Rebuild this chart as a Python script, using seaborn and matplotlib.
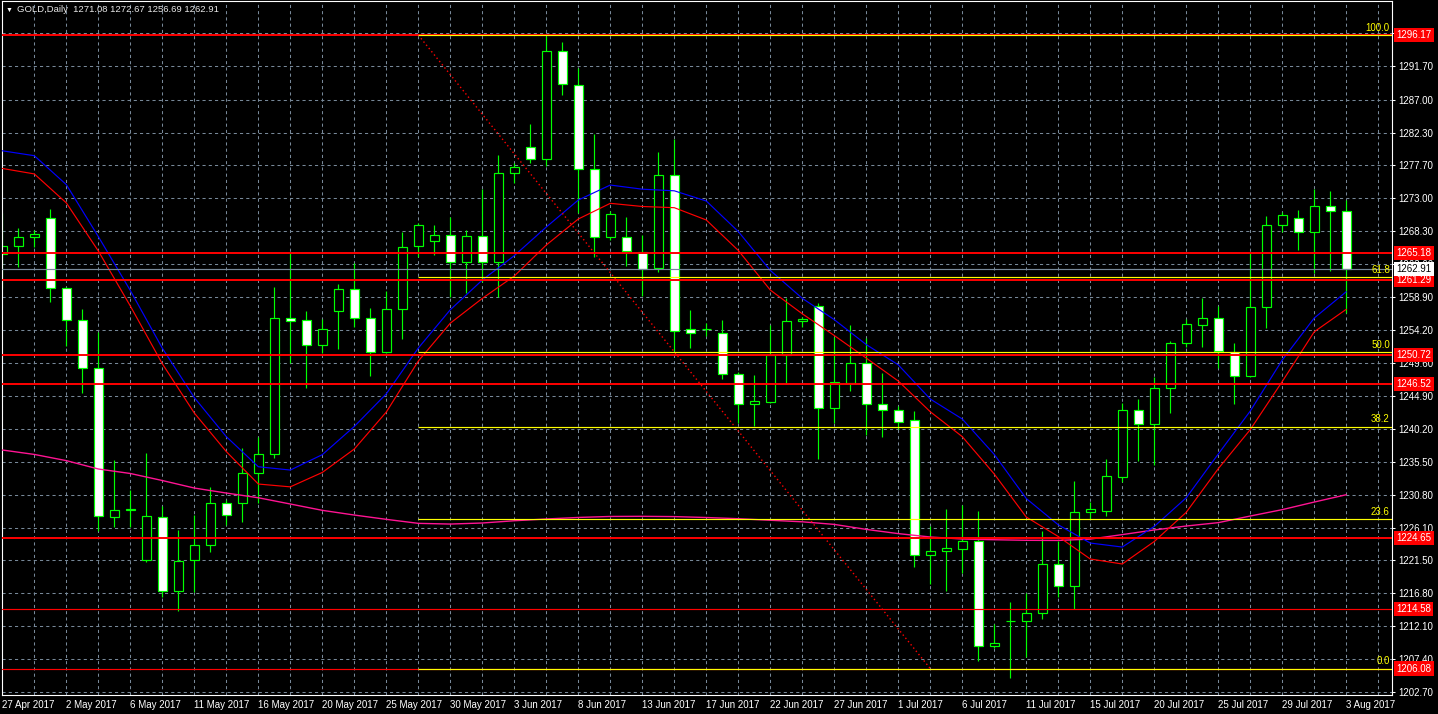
import numpy as np
import pandas as pd
import matplotlib
matplotlib.use("Agg")
import matplotlib.pyplot as plt
import seaborn as sns

# ---------------- data ----------------
opens = [1264.99, 1266.17, 1267.41, 1270.11, 1260.15, 1255.60, 1248.78, 1227.67, 1228.60, 1221.56,
         1227.59, 1217.15, 1221.51, 1223.65, 1229.58, 1229.58, 1233.84, 1236.55, 1255.89, 1255.60,
         1252.05, 1256.88, 1260.01, 1255.89, 1251.14, 1257.17, 1266.17, 1266.88, 1267.69, 1263.85,
         1267.55, 1263.85, 1276.51, 1280.20, 1278.50, 1293.86, 1289.02, 1277.08, 1267.41, 1267.41,
         1265.36, 1263.00, 1276.22, 1254.32, 1254.35, 1253.75, 1247.92, 1243.66, 1244.03, 1250.63,
         1255.46, 1257.59, 1243.09, 1246.73, 1249.57, 1243.66, 1242.80, 1241.38, 1222.18, 1222.75,
         1223.12, 1224.17, 1209.33, 1212.80, 1212.84, 1213.93, 1220.90, 1217.77, 1228.30, 1228.44,
         1233.39, 1242.80, 1240.81, 1245.93, 1252.33, 1254.89, 1255.89, 1251.14, 1247.68, 1257.54,
         1269.11, 1270.11, 1268.12, 1271.81, 1271.08]
highs = [1270.82, 1268.69, 1268.44, 1271.43, 1260.34, 1257.17, 1253.98, 1235.74, 1231.47, 1236.69,
         1229.15, 1225.78, 1227.91, 1231.85, 1230.05, 1237.40, 1238.96, 1260.34, 1265.13, 1256.93,
         1255.74, 1260.76, 1263.71, 1257.31, 1259.81, 1268.20, 1269.40, 1269.15, 1270.34, 1268.44,
         1274.23, 1279.11, 1277.93, 1283.52, 1296.10, 1295.22, 1291.44, 1282.10, 1271.19, 1270.25,
         1267.73, 1279.49, 1281.34, 1257.07, 1255.18, 1255.64, 1248.29, 1247.82, 1254.89, 1258.73,
         1256.11, 1258.02, 1253.18, 1254.89, 1253.13, 1248.07, 1243.42, 1242.70, 1226.39, 1228.77,
         1229.34, 1228.44, 1212.41, 1215.54, 1216.78, 1225.60, 1224.26, 1232.71, 1229.76, 1235.88,
         1243.80, 1244.41, 1247.58, 1252.70, 1255.74, 1258.73, 1257.64, 1252.33, 1265.13, 1270.44,
         1271.05, 1271.29, 1274.27, 1273.99, 1272.67]
lows = [1260.15, 1263.22, 1265.98, 1258.25, 1251.95, 1245.31, 1225.60, 1226.16, 1226.21, 1221.19,
        1216.21, 1214.30, 1217.01, 1222.69, 1226.49, 1226.96, 1229.58, 1235.98, 1249.57, 1245.93,
        1250.99, 1251.56, 1254.61, 1247.72, 1250.91, 1252.99, 1264.56, 1264.89, 1258.96, 1259.44,
        1261.09, 1258.96, 1275.08, 1278.01, 1277.59, 1287.64, 1270.82, 1264.56, 1267.02, 1263.32,
        1259.06, 1262.51, 1251.24, 1251.71, 1253.41, 1247.30, 1240.95, 1240.61, 1243.84, 1246.54,
        1254.61, 1235.88, 1240.95, 1245.59, 1239.29, 1239.05, 1240.14, 1220.56, 1218.10, 1217.15,
        1219.62, 1207.11, 1209.00, 1204.73, 1207.76, 1213.12, 1216.21, 1214.55, 1227.30, 1227.81,
        1232.56, 1235.59, 1235.02, 1242.46, 1251.76, 1251.76, 1248.78, 1243.66, 1247.50, 1254.46,
        1268.12, 1265.60, 1262.29, 1262.66, 1256.69]
closes = [1266.17, 1267.41, 1267.83, 1260.15, 1255.64, 1248.78, 1227.81, 1228.63, 1228.70, 1227.73,
          1217.15, 1221.41, 1223.65, 1229.58, 1227.96, 1233.84, 1236.55, 1255.89, 1255.50, 1252.05,
          1254.32, 1260.01, 1255.89, 1251.05, 1257.17, 1265.98, 1269.15, 1267.69, 1263.85, 1267.55,
          1263.85, 1276.51, 1277.36, 1278.50, 1293.86, 1289.16, 1277.08, 1267.41, 1270.68, 1265.46,
          1262.85, 1276.22, 1254.08, 1253.84, 1254.40, 1247.92, 1243.66, 1244.08, 1250.63, 1255.46,
          1255.79, 1243.09, 1246.79, 1249.57, 1243.66, 1242.80, 1241.10, 1222.23, 1222.75, 1223.22,
          1224.17, 1209.33, 1209.67, 1212.88, 1213.93, 1220.90, 1217.77, 1228.30, 1228.77, 1233.50,
          1242.80, 1240.81, 1245.93, 1252.33, 1255.03, 1255.89, 1251.24, 1247.68, 1257.54, 1269.11,
          1270.53, 1268.12, 1271.81, 1271.10, 1262.91]

# moving averages, read every second bar
ma_bars = list(range(0, 85, 2))
ma_blue = [1279.71, 1279.01, 1274.90, 1267.51, 1259.84, 1251.64, 1244.61, 1239.06, 1234.78, 1234.31,
           1236.50, 1240.51, 1245.15, 1251.66, 1257.11, 1261.33, 1264.80, 1268.87, 1272.71, 1274.84,
           1274.25, 1274.02, 1272.57, 1268.23, 1262.70, 1258.73, 1255.70, 1252.15, 1249.27, 1244.41,
           1241.57, 1236.53, 1230.26, 1226.52, 1223.93, 1223.36, 1226.29, 1230.37, 1236.59, 1242.70,
           1249.96, 1255.93, 1259.67]
ma_red = [1277.20, 1276.42, 1272.30, 1265.46, 1257.64, 1249.42, 1242.42, 1236.93, 1232.32, 1231.92,
          1233.97, 1237.30, 1242.56, 1249.81, 1255.20, 1258.72, 1261.90, 1266.31, 1270.01, 1272.24,
          1271.79, 1271.62, 1269.87, 1265.54, 1259.91, 1256.53, 1253.44, 1250.23, 1246.97, 1242.60,
          1239.06, 1233.74, 1227.63, 1224.86, 1221.66, 1220.95, 1224.15, 1228.30, 1234.50, 1240.06,
          1246.90, 1253.97, 1257.17]
ma_pink = [1237.16, 1236.53, 1235.65, 1234.46, 1233.82, 1232.82, 1231.75, 1231.04, 1230.37, 1229.48,
           1228.58, 1227.91, 1227.30, 1226.73, 1226.63, 1226.78, 1227.10, 1227.35, 1227.57, 1227.71,
           1227.73, 1227.69, 1227.56, 1227.39, 1227.17, 1226.95, 1226.58, 1225.87, 1225.27, 1224.79,
           1224.50, 1224.40, 1224.32, 1224.30, 1224.49, 1225.13, 1225.79, 1226.35, 1226.83, 1227.77,
           1228.68, 1229.76, 1230.80]

# horizontal levels
red_levels_thick = [1296.17, 1265.18, 1261.29, 1250.72, 1246.52, 1224.65]
red_levels_thin = [1214.58, 1206.08]
current_price = 1262.91

# fibonacci retracement
fib_anchor_bars = [26, 58]
fib_anchor_prices = [1296.17, 1206.08]
fib_ratios = [100.0, 61.8, 50.0, 38.2, 23.6, 0.0]

# axes ticks / labels
ytick_values = [1202.70, 1207.40, 1212.10, 1216.80, 1221.50, 1226.10, 1230.80, 1235.50, 1240.20,
                1244.90, 1249.60, 1254.20, 1258.90, 1263.60, 1268.30, 1273.00, 1277.70, 1282.30,
                1287.00, 1291.70, 1296.40]
date_labels = ["27 Apr 2017", "2 May 2017", "6 May 2017", "11 May 2017", "16 May 2017",
               "20 May 2017", "25 May 2017", "30 May 2017", "3 Jun 2017", "8 Jun 2017",
               "13 Jun 2017", "17 Jun 2017", "22 Jun 2017", "27 Jun 2017", "1 Jul 2017",
               "6 Jul 2017", "11 Jul 2017", "15 Jul 2017", "20 Jul 2017", "25 Jul 2017",
               "29 Jul 2017", "3 Aug 2017"]
label_bars = list(range(0, 85, 4))
grid_minor_bars = list(range(2, 88, 4))
header = "GOLD,Daily  1271.08 1272.67 1256.69 1262.91"

# ---------------- styling ----------------
sns.set_style("dark")
plt.rcParams['font.family'] = ['Liberation Sans', 'DejaVu Sans']

GREEN = "#00ff00"
GRID = "#778899"
W, H = 1438, 714
fig = plt.figure(figsize=(W / 100, H / 100), dpi=100, facecolor="black")
ax = fig.add_axes([1.7 / W, (H - 695) / H, (1392 - 1.7) / W, (695 - 1.3) / H])
ax.set_facecolor("black")

df = pd.DataFrame({"open": opens, "high": highs, "low": lows, "close": closes})
df["bar"] = np.arange(len(df))
df["bottom"] = df[["open", "close"]].min(axis=1)
df["height"] = (df["close"] - df["open"]).abs()
df["fill"] = np.where(df["close"] < df["open"], "white", "black")

# wicks and bodies
ax.vlines(df["bar"], df["low"], df["high"], colors=GREEN, linewidth=0.85, zorder=2)
ax.bar(df["bar"], df["height"], bottom=df["bottom"], width=0.56, color=df["fill"],
       edgecolor=GREEN, linewidth=0.85, zorder=2.2)

# moving averages via seaborn
ma_df = pd.DataFrame({"bar": ma_bars, "blue": ma_blue, "red": ma_red, "pink": ma_pink})
sns.lineplot(data=ma_df, x="bar", y="pink", color="#ff1493", linewidth=1.0, ax=ax, zorder=3)
sns.lineplot(data=ma_df, x="bar", y="blue", color="#0000ff", linewidth=0.85, ax=ax, zorder=3)
sns.lineplot(data=ma_df, x="bar", y="red", color="#ff0000", linewidth=0.85, ax=ax, zorder=3)

xlo, xhi = -0.04, 86.86
ax.set_xlim(xlo, xhi)
ax.set_ylim(1202.32, 1300.97)

# horizontal lines
for lv in red_levels_thick:
    ax.axhline(lv, color="#ff0000", linewidth=1.4, zorder=4)
for lv in red_levels_thin:
    ax.axhline(lv, color="#ff0000", linewidth=0.85, zorder=4)
ax.axhline(current_price, color=GRID, linewidth=0.85, zorder=3.5)

# fibonacci
f0, f100 = fib_anchor_prices[1], fib_anchor_prices[0]
for r in fib_ratios:
    p = f0 + (f100 - f0) * r / 100.0
    ax.hlines(p, fib_anchor_bars[0], xhi, colors="#ffff00", linewidth=0.85, zorder=4.5)
    ax.text(0.9985, p + 0.3, f"{r:.1f}", transform=ax.get_yaxis_transform(),
            ha="right", va="bottom", color="#ffff00", fontsize=7, zorder=6)
ax.plot(fib_anchor_bars, fib_anchor_prices, color="#ff0000", linewidth=1.0,
        linestyle=(0, (1, 2)), zorder=4)

# ticks & grid
ax.set_xticks(label_bars)
ax.set_xticklabels(date_labels, ha="left")
ax.set_xticks(grid_minor_bars, minor=True)
ax.set_yticks(ytick_values)
ax.set_yticklabels([f"{v:.2f}" for v in ytick_values])
ax.yaxis.tick_right()
ax.tick_params(axis="x", which="major", colors="white", length=2.2, width=0.75,
               labelsize=7, pad=1.5)
ax.tick_params(axis="x", which="minor", length=0)
ax.tick_params(axis="y", colors="white", length=2.2, width=0.75, labelsize=7, pad=2.2)
ax.grid(True, which="both", axis="x", color=GRID, linestyle=(0, (3, 3)), linewidth=0.75)
ax.grid(True, which="major", axis="y", color=GRID, linestyle=(0, (3, 3)), linewidth=0.75)
ax.set_axisbelow(True)
ax.set_xlabel("")
ax.set_ylabel("")
for s in ax.spines.values():
    s.set_visible(True)
    s.set_color("white")
    s.set_linewidth(0.8)

# price boxes on the right axis
for lv in red_levels_thick + red_levels_thin:
    ax.text(1.0032, lv, f"{lv:.2f}", transform=ax.get_yaxis_transform(), ha="left",
            va="center", color="white", fontsize=7, clip_on=False, zorder=7,
            bbox=dict(boxstyle="square,pad=0.22", fc="#ff0000", ec="none"))
ax.text(1.0032, current_price, f"{current_price:.2f}", transform=ax.get_yaxis_transform(),
        ha="left", va="center", color="black", fontsize=7, clip_on=False, zorder=7,
        bbox=dict(boxstyle="square,pad=0.22", fc="white", ec="none"))

# header
fig.text(6 / W, 1 - 10 / H, "\u25bc", color="white", fontsize=5, va="center", ha="left")
fig.text(17 / W, 1 - 10 / H, header, color="#e8e8e8", fontsize=6.8, va="center", ha="left")

fig.savefig("out.png", dpi=100, facecolor="black")
